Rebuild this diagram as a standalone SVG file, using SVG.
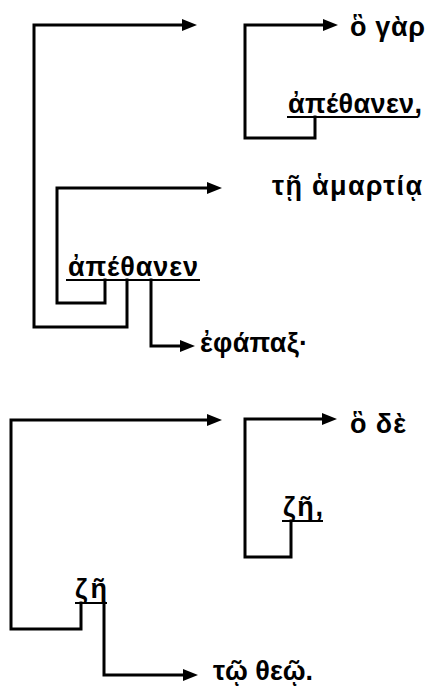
<svg xmlns="http://www.w3.org/2000/svg" width="439" height="687" viewBox="0 0 439 687">
<style>
.ln{fill:none;stroke:#000;stroke-width:3;stroke-linejoin:miter;stroke-linecap:square}
.ar{marker-end:url(#ah)}
.ul{stroke:#000;stroke-width:2}
.t{font-family:"Liberation Sans","DejaVu Sans",sans-serif;font-size:27px;font-weight:bold;fill:#000}
</style>
<defs>
<marker id="ah" markerUnits="userSpaceOnUse" markerWidth="16" markerHeight="13" refX="3" refY="6" orient="auto">
<path d="M0,0 L15,6 L0,12 z" fill="#000"/>
</marker>
</defs>
<rect width="439" height="687" fill="#fff"/>
<g id="connectors">
<path class="ln ar" d="M127,280 V327 H34 V25 H185"/>
<path class="ln ar" d="M315,117 V138 H245 V25 H326"/>
<path class="ln ar" d="M105,280 V303 H57 V188 H210"/>
<path class="ln ar" d="M151,280 V346 H183"/>
<path class="ln ar" d="M81,603 V629 H11 V420 H210"/>
<path class="ln ar" d="M291,521 V557 H245 V419 H325"/>
<path class="ln ar" d="M104,603 V675 H186"/>
</g>
<g id="n-o-gar"><text class="t" x="350" y="36" textLength="75" lengthAdjust="spacing">ὃ γὰρ</text></g>
<g id="n-apethanen1"><text class="t" x="288" y="113" textLength="134" lengthAdjust="spacing">ἀπέθανεν,</text><line class="ul" x1="287" y1="117" x2="418" y2="117"/></g>
<g id="n-te-hamartia"><text class="t" x="272" y="195" textLength="150" lengthAdjust="spacing">τῇ ἁμαρτίᾳ</text></g>
<g id="n-apethanen2"><text class="t" x="68" y="276" textLength="130" lengthAdjust="spacing">ἀπέθανεν</text><line class="ul" x1="66" y1="280" x2="200" y2="280"/></g>
<g id="n-ephapax"><text class="t" x="200" y="352" textLength="108" lengthAdjust="spacing">ἐφάπαξ·</text></g>
<g id="n-o-de"><text class="t" x="350" y="433" textLength="56" lengthAdjust="spacing">ὃ δὲ</text></g>
<g id="n-ze1"><text class="t" x="283" y="516" textLength="40" lengthAdjust="spacing">ζῆ,</text><line class="ul" x1="282" y1="521" x2="323" y2="521"/></g>
<g id="n-ze2"><text class="t" x="75" y="598" textLength="32" lengthAdjust="spacing">ζῆ</text><line class="ul" x1="75" y1="603" x2="107" y2="603"/></g>
<g id="n-to-theo"><text class="t" x="213" y="680" textLength="100" lengthAdjust="spacing">τῷ θεῷ.</text></g>
</svg>
